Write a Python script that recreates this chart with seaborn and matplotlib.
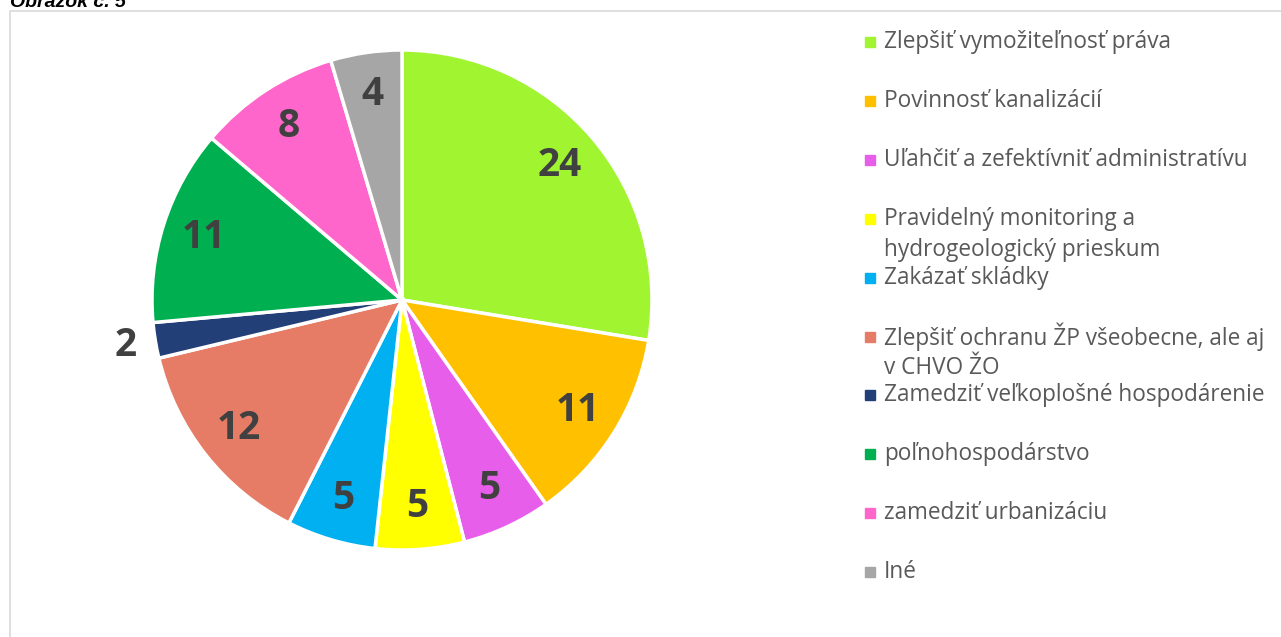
import matplotlib
matplotlib.use("Agg")
import matplotlib.pyplot as plt
import matplotlib.patches as mpatches
import numpy as np
import seaborn as sns

# data
categories = [
    "Zlepšiť vymožiteľnosť práva",
    "Povinnosť kanalizácií",
    "Uľahčiť a zefektívniť administratívu",
    "Pravidelný monitoring a\nhydrogeologický prieskum",
    "Zakázať skládky",
    "Zlepšiť ochranu ŽP všeobecne, ale aj\nv CHVO ŽO",
    "Zamedziť veľkoplošné hospodárenie",
    "poľnohospodárstvo",
    "zamedziť urbanizáciu",
    "Iné",
]
counts = [24, 11, 5, 5, 5, 12, 2, 11, 8, 4]
slice_colors = ["#A0F530", "#FFC000", "#E65EEA", "#FFFF00", "#00B0F0",
                "#E67C66", "#223F78", "#00B050", "#FF66CC", "#A6A6A6"]
title_text = "Obrázok č. 5"

sns.set_theme(style="white")
plt.rcParams['font.family'] = ['Open Sans', 'DejaVu Sans']
palette = sns.color_palette(slice_colors)

W, H = 1281, 637
fig = plt.figure(figsize=(W / 100, H / 100), dpi=100)
fig.patch.set_facecolor("white")

# chart frame (runs off the right and bottom edges)
frame = mpatches.Rectangle((10 / W, -0.1), 1.2, (H - 11) / H + 0.1,
                           transform=fig.transFigure, fill=False,
                           edgecolor="#D9D9D9", linewidth=1.2)
fig.patches.append(frame)

# caption, cut off at the top as in the source page
fig.text(10 / W, (H - 7) / H, title_text, fontsize=14, fontweight="bold",
         fontstyle="italic", color="#000000", va="baseline", ha="left",
         family="Liberation Sans")

# pie
cx, cy, r = 402, H - 300, 250
ax = fig.add_axes([(cx - r) / W, (cy - r) / H, 2 * r / W, 2 * r / H])
wedges, _ = ax.pie(counts, colors=palette, startangle=90, counterclock=False,
                   radius=1, wedgeprops=dict(edgecolor="white", linewidth=2.5))
ax.set_xlim(-1, 1)
ax.set_ylim(-1, 1)
ax.set_aspect("equal")
ax.axis("off")

for w, v in zip(wedges, counts):
    mid = np.deg2rad((w.theta1 + w.theta2) / 2)
    dist = 1.12 if v < 3 else 0.83
    ax.text(dist * np.cos(mid), dist * np.sin(mid), str(v), ha="center",
            va="center", fontsize=28, fontweight="bold", color="#404040",
            clip_on=False)

# legend drawn as a fixed-step list
y0, step = 42, 58.9
for i, (lab, col) in enumerate(zip(categories, palette)):
    y = H - (y0 + i * step)
    fig.patches.append(mpatches.Rectangle(((870 - 5) / W, (y - 5) / H), 10 / W, 10 / H,
                                          transform=fig.transFigure, color=col))
    lines = lab.split("\n")
    for j, line in enumerate(lines):
        fig.text(884 / W, (y - j * 31) / H, line, fontsize=16.3, color="#595959",
                 va="center", ha="left")

fig.savefig("out.png", dpi=100)
